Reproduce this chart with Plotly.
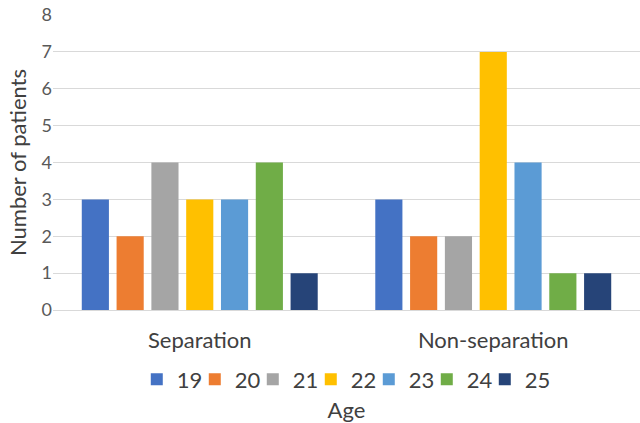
import plotly.graph_objects as go

groups = ["Separation", "Non-separation"]
ages = ["19", "20", "21", "22", "23", "24", "25"]
separation = [3, 2, 4, 3, 3, 4, 1]
non_separation = [3, 2, 2, 7, 4, 1, 1]
colors = ["#4472C4", "#ED7D31", "#A5A5A5", "#FFC000", "#5B9BD5", "#70AD47", "#264478"]

font_family = "Lato, 'Open Sans', sans-serif"
label_color = "#404040"
tick_color = "#595959"

fig = go.Figure()
for i, age in enumerate(ages):
    fig.add_trace(go.Bar(
        x=groups,
        y=[separation[i], non_separation[i]],
        name=age,
        marker=dict(color=colors[i], line=dict(width=0)),
    ))

fig.update_layout(
    width=640,
    height=423,
    margin=dict(l=53, r=0, t=15, b=113),
    paper_bgcolor="white",
    plot_bgcolor="white",
    barmode="group",
    bargap=0.17,
    bargroupgap=0.22,
    font=dict(family=font_family, color=label_color, size=22),
    legend=dict(
        orientation="h",
        x=0.509, xanchor="center",
        y=-0.235, yanchor="middle",
        font=dict(size=22, color=label_color),
        traceorder="normal",
        indentation=-12,
        entrywidth=25,
        entrywidthmode="pixels",
    ),
    xaxis=dict(
        showgrid=False,
        showline=False,
        ticks="",
        ticklabelstandoff=15,
        tickfont=dict(size=22, color=label_color),
        title=dict(text="Age", font=dict(size=22, color=label_color), standoff=50),
    ),
    yaxis=dict(
        range=[0, 8],
        dtick=1,
        showgrid=True,
        gridcolor="#D9D9D9",
        gridwidth=1,
        zeroline=True,
        zerolinecolor="#D9D9D9",
        zerolinewidth=1,
        showline=False,
        ticks="",
        tickfont=dict(size=18, color=tick_color),
        title=dict(text="Number of patients", font=dict(size=22, color=label_color), standoff=8),
    ),
)

fig.write_html("out.html")
